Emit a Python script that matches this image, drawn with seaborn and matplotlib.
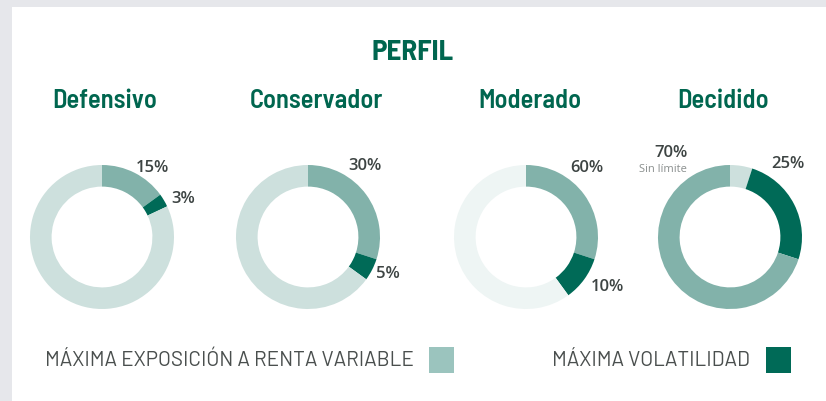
import matplotlib
matplotlib.use("Agg")
import matplotlib.pyplot as plt
from matplotlib.patches import Rectangle
import seaborn as sns

# datos
perfiles = ["Defensivo", "Conservador", "Moderado", "Decidido"]
renta_variable = [15, 30, 30, 70]      # porcion dibujada (tono medio)
volatilidad = [3, 5, 10, 25]           # porcion dibujada (tono oscuro)
etiqueta_rv = ["15%", "30%", "60%", "70%"]
etiqueta_vol = ["3%", "5%", "10%", "25%"]
leyenda = ["MÁXIMA EXPOSICIÓN A RENTA VARIABLE", "MÁXIMA VOLATILIDAD"]

sns.set_theme(style="white")
plt.rcParams["font.family"] = ["Barlow Semi Condensed", "DejaVu Sans"]

W, H = 826, 401
VERDE = "#00664f"
MEDIO = "#82b2aa"
OSCURO = "#006a57"
CLARO = ["#cde0dd", "#cde0dd", "#eef5f4", "#cde0dd"]
GRIS_TXT = "#3d4443"
FUENTE_PCT = ["Open Sans", "DejaVu Sans"]
FUENTE_LEY = ["Barlow", "DejaVu Sans"]


def fx(px):
    return px / W


def fy(py):
    return 1 - py / H


fig = plt.figure(figsize=(W / 100, H / 100), dpi=100, facecolor="#e6e7eb")
fig.patches.append(Rectangle((fx(12), 0), 1 - fx(12), fy(7), transform=fig.transFigure,
                             facecolor="white", edgecolor="none", zorder=-5))

centros_x = [102, 308, 526, 730]
cy, r = 237, 72

for i, nombre in enumerate(perfiles):
    cx = centros_x[i]
    ax = fig.add_axes([fx(cx - r), fy(cy + r), 2 * r / W, 2 * r / H])
    ax.patch.set_alpha(0)
    resto = 100 - renta_variable[i] - volatilidad[i]
    if i == 3:
        # Decidido: el resto arranca arriba, luego volatilidad y renta variable
        valores = [resto, volatilidad[i], renta_variable[i]]
        colores = [CLARO[i], OSCURO, MEDIO]
    else:
        valores = [renta_variable[i], volatilidad[i], resto]
        colores = [MEDIO, OSCURO, CLARO[i]]
    ax.pie(valores, colors=colores, startangle=90, counterclock=False,
           wedgeprops=dict(width=0.3, edgecolor="none"))
    ax.set_xlim(-1, 1)
    ax.set_ylim(-1, 1)
    ax.set_axis_off()

fig.text(fx(413), fy(52), "PERFIL", ha="center", va="center", fontsize=21,
         fontweight="bold", color=VERDE)

sub_x = [105, 316, 530, 723]
for x, nombre in zip(sub_x, perfiles):
    fig.text(fx(x), fy(101), nombre, ha="center", va="center", fontsize=19,
             fontweight="semibold", color=VERDE)

pos_rv = [(152, 168), (365, 166), (587, 168), (671, 153)]
pos_vol = [(183, 199), (388, 274), (607, 287), (788, 164)]
for (x, y), t in zip(pos_rv, etiqueta_rv):
    fig.text(fx(x), fy(y), t, ha="center", va="center", fontsize=12,
             fontweight="semibold", color=GRIS_TXT, family=FUENTE_PCT)
for (x, y), t in zip(pos_vol, etiqueta_vol):
    fig.text(fx(x), fy(y), t, ha="center", va="center", fontsize=12,
             fontweight="semibold", color=GRIS_TXT, family=FUENTE_PCT)
fig.text(fx(663), fy(170), "Sin límite", ha="center", va="center", fontsize=8,
         color="#8a8f8e", family=FUENTE_PCT)

# leyenda
fig.text(fx(45), fy(360), leyenda[0], ha="left", va="center", fontsize=14.9,
         color="#4a4f4e", family=FUENTE_LEY)
fig.patches.append(Rectangle((fx(429), fy(373)), 25 / W, 26 / H, transform=fig.transFigure,
                             facecolor="#9bc4be", edgecolor="none"))
fig.text(fx(552), fy(360), leyenda[1], ha="left", va="center", fontsize=14.9,
         color="#4a4f4e", family=FUENTE_LEY)
fig.patches.append(Rectangle((fx(766), fy(373)), 25 / W, 26 / H, transform=fig.transFigure,
                             facecolor=OSCURO, edgecolor="none"))

fig.savefig("out.png", dpi=100, facecolor=fig.get_facecolor())
